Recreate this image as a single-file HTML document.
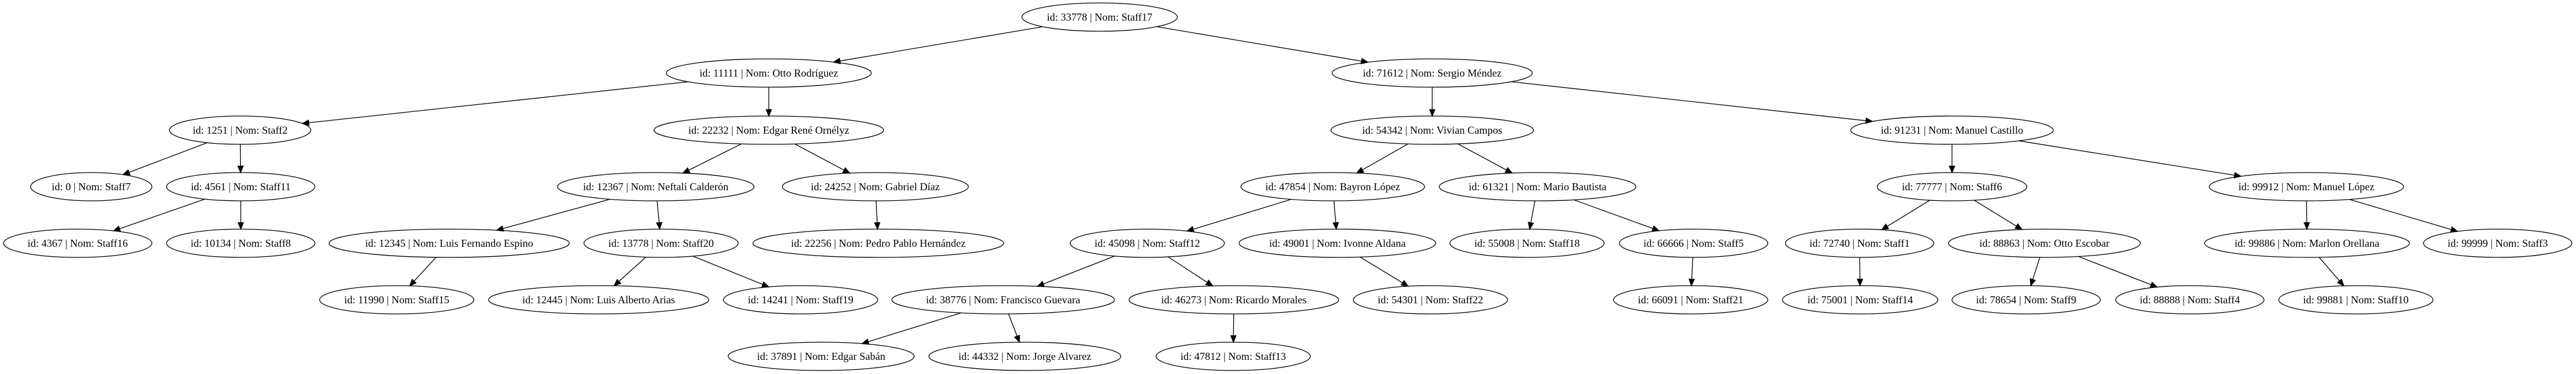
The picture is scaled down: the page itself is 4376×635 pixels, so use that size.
<!DOCTYPE html>
<html><head><meta charset="utf-8"><style>
html,body{margin:0;padding:0;background:#fff;}
svg{display:block;}
text{font-family:"Liberation Serif","Times New Roman",serif;font-size:18px;fill:#000;text-anchor:middle;}
ellipse{fill:none;stroke:#000;stroke-width:1.3;}
</style></head><body>
<svg id="s" width="4376" height="635" viewBox="0 0 4376 635" xmlns="http://www.w3.org/2000/svg">
<g id="edges" stroke="#000" stroke-width="1.3" fill="#000"></g>
<g id="nodes">
<g id="n33778" data-x="1868" data-y="29" data-r="132"><ellipse cx="1868" cy="29" rx="132" ry="24"/><text x="1868" y="35">id: 33778 | Nom: Staff17</text></g>
<g id="n11111" data-x="1306" data-y="124" data-r="174"><ellipse cx="1306" cy="124" rx="174" ry="24"/><text x="1306" y="130">id: 11111 | Nom: Otto Rodríguez</text></g>
<g id="n71612" data-x="2433" data-y="124" data-r="170"><ellipse cx="2433" cy="124" rx="170" ry="24"/><text x="2433" y="130">id: 71612 | Nom: Sergio Méndez</text></g>
<g id="n1251" data-x="408" data-y="221" data-r="120"><ellipse cx="408" cy="221" rx="120" ry="24"/><text x="408" y="227">id: 1251 | Nom: Staff2</text></g>
<g id="n22232" data-x="1306" data-y="221" data-r="195"><ellipse cx="1306" cy="221" rx="195" ry="24"/><text x="1306" y="227">id: 22232 | Nom: Edgar René Ornélyz</text></g>
<g id="n54342" data-x="2433" data-y="221" data-r="172"><ellipse cx="2433" cy="221" rx="172" ry="24"/><text x="2433" y="227">id: 54342 | Nom: Vivian Campos</text></g>
<g id="n91231" data-x="3316" data-y="221" data-r="172"><ellipse cx="3316" cy="221" rx="172" ry="24"/><text x="3316" y="227">id: 91231 | Nom: Manuel Castillo</text></g>
<g id="n0" data-x="155" data-y="317" data-r="103"><ellipse cx="155" cy="317" rx="103" ry="24"/><text x="155" y="323">id: 0 | Nom: Staff7</text></g>
<g id="n4561" data-x="409" data-y="317" data-r="126"><ellipse cx="409" cy="317" rx="126" ry="24"/><text x="409" y="323">id: 4561 | Nom: Staff11</text></g>
<g id="n12367" data-x="1114" data-y="317" data-r="167"><ellipse cx="1114" cy="317" rx="167" ry="24"/><text x="1114" y="323">id: 12367 | Nom: Neftalí Calderón</text></g>
<g id="n24252" data-x="1487" data-y="317" data-r="158"><ellipse cx="1487" cy="317" rx="158" ry="24"/><text x="1487" y="323">id: 24252 | Nom: Gabriel Díaz</text></g>
<g id="n47854" data-x="2264" data-y="317" data-r="156"><ellipse cx="2264" cy="317" rx="156" ry="24"/><text x="2264" y="323">id: 47854 | Nom: Bayron López</text></g>
<g id="n61321" data-x="2612" data-y="317" data-r="167"><ellipse cx="2612" cy="317" rx="167" ry="24"/><text x="2612" y="323">id: 61321 | Nom: Mario Bautista</text></g>
<g id="n77777" data-x="3316" data-y="317" data-r="127"><ellipse cx="3316" cy="317" rx="127" ry="24"/><text x="3316" y="323">id: 77777 | Nom: Staff6</text></g>
<g id="n99912" data-x="3918" data-y="317" data-r="165"><ellipse cx="3918" cy="317" rx="165" ry="24"/><text x="3918" y="323">id: 99912 | Nom: Manuel López</text></g>
<g id="n4367" data-x="132" data-y="413" data-r="126"><ellipse cx="132" cy="413" rx="126" ry="24"/><text x="132" y="419">id: 4367 | Nom: Staff16</text></g>
<g id="n10134" data-x="409" data-y="413" data-r="126"><ellipse cx="409" cy="413" rx="126" ry="24"/><text x="409" y="419">id: 10134 | Nom: Staff8</text></g>
<g id="n12345" data-x="763" data-y="413" data-r="204"><ellipse cx="763" cy="413" rx="204" ry="24"/><text x="763" y="419">id: 12345 | Nom: Luis Fernando Espino</text></g>
<g id="n13778" data-x="1123" data-y="413" data-r="131"><ellipse cx="1123" cy="413" rx="131" ry="24"/><text x="1123" y="419">id: 13778 | Nom: Staff20</text></g>
<g id="n22256" data-x="1492" data-y="413" data-r="213"><ellipse cx="1492" cy="413" rx="213" ry="24"/><text x="1492" y="419">id: 22256 | Nom: Pedro Pablo Hernández</text></g>
<g id="n45098" data-x="1949" data-y="413" data-r="131"><ellipse cx="1949" cy="413" rx="131" ry="24"/><text x="1949" y="419">id: 45098 | Nom: Staff12</text></g>
<g id="n49001" data-x="2272" data-y="413" data-r="167"><ellipse cx="2272" cy="413" rx="167" ry="24"/><text x="2272" y="419">id: 49001 | Nom: Ivonne Aldana</text></g>
<g id="n55008" data-x="2594" data-y="413" data-r="131"><ellipse cx="2594" cy="413" rx="131" ry="24"/><text x="2594" y="419">id: 55008 | Nom: Staff18</text></g>
<g id="n66666" data-x="2877" data-y="413" data-r="126"><ellipse cx="2877" cy="413" rx="126" ry="24"/><text x="2877" y="419">id: 66666 | Nom: Staff5</text></g>
<g id="n72740" data-x="3159" data-y="413" data-r="126"><ellipse cx="3159" cy="413" rx="126" ry="24"/><text x="3159" y="419">id: 72740 | Nom: Staff1</text></g>
<g id="n88863" data-x="3473" data-y="413" data-r="163"><ellipse cx="3473" cy="413" rx="163" ry="24"/><text x="3473" y="419">id: 88863 | Nom: Otto Escobar</text></g>
<g id="n99886" data-x="3919" data-y="413" data-r="174"><ellipse cx="3919" cy="413" rx="174" ry="24"/><text x="3919" y="419">id: 99886 | Nom: Marlon Orellana</text></g>
<g id="n99999" data-x="4243" data-y="413" data-r="126"><ellipse cx="4243" cy="413" rx="126" ry="24"/><text x="4243" y="419">id: 99999 | Nom: Staff3</text></g>
<g id="n11990" data-x="674" data-y="509" data-r="131"><ellipse cx="674" cy="509" rx="131" ry="24"/><text x="674" y="515">id: 11990 | Nom: Staff15</text></g>
<g id="n12445" data-x="1017" data-y="509" data-r="187"><ellipse cx="1017" cy="509" rx="187" ry="24"/><text x="1017" y="515">id: 12445 | Nom: Luis Alberto Arias</text></g>
<g id="n14241" data-x="1360" data-y="509" data-r="131"><ellipse cx="1360" cy="509" rx="131" ry="24"/><text x="1360" y="515">id: 14241 | Nom: Staff19</text></g>
<g id="n38776" data-x="1704" data-y="509" data-r="189"><ellipse cx="1704" cy="509" rx="189" ry="24"/><text x="1704" y="515">id: 38776 | Nom: Francisco Guevara</text></g>
<g id="n46273" data-x="2096" data-y="509" data-r="178"><ellipse cx="2096" cy="509" rx="178" ry="24"/><text x="2096" y="515">id: 46273 | Nom: Ricardo Morales</text></g>
<g id="n54301" data-x="2430" data-y="509" data-r="131"><ellipse cx="2430" cy="509" rx="131" ry="24"/><text x="2430" y="515">id: 54301 | Nom: Staff22</text></g>
<g id="n66091" data-x="2872" data-y="509" data-r="131"><ellipse cx="2872" cy="509" rx="131" ry="24"/><text x="2872" y="515">id: 66091 | Nom: Staff21</text></g>
<g id="n75001" data-x="3160" data-y="509" data-r="132"><ellipse cx="3160" cy="509" rx="132" ry="24"/><text x="3160" y="515">id: 75001 | Nom: Staff14</text></g>
<g id="n78654" data-x="3442" data-y="509" data-r="126"><ellipse cx="3442" cy="509" rx="126" ry="24"/><text x="3442" y="515">id: 78654 | Nom: Staff9</text></g>
<g id="n88888" data-x="3720" data-y="509" data-r="126"><ellipse cx="3720" cy="509" rx="126" ry="24"/><text x="3720" y="515">id: 88888 | Nom: Staff4</text></g>
<g id="n99881" data-x="4002" data-y="509" data-r="131"><ellipse cx="4002" cy="509" rx="131" ry="24"/><text x="4002" y="515">id: 99881 | Nom: Staff10</text></g>
<g id="n37891" data-x="1395" data-y="605" data-r="158"><ellipse cx="1395" cy="605" rx="158" ry="24"/><text x="1395" y="611">id: 37891 | Nom: Edgar Sabán</text></g>
<g id="n44332" data-x="1741" data-y="605" data-r="163"><ellipse cx="1741" cy="605" rx="163" ry="24"/><text x="1741" y="611">id: 44332 | Nom: Jorge Alvarez</text></g>
<g id="n47812" data-x="2095" data-y="605" data-r="131"><ellipse cx="2095" cy="605" rx="131" ry="24"/><text x="2095" y="611">id: 47812 | Nom: Staff13</text></g>
</g>
</svg>
<script>
var E=[["33778","11111"],["33778","71612"],["11111","1251"],["11111","22232"],["1251","0"],["1251","4561"],["4561","4367"],["4561","10134"],["22232","12367"],["22232","24252"],["12367","12345"],["12367","13778"],["12345","11990"],["13778","12445"],["13778","14241"],["24252","22256"],["71612","54342"],["71612","91231"],["54342","47854"],["54342","61321"],["47854","45098"],["47854","49001"],["45098","38776"],["45098","46273"],["38776","37891"],["38776","44332"],["46273","47812"],["49001","54301"],["61321","55008"],["61321","66666"],["66666","66091"],["91231","77777"],["91231","99912"],["77777","72740"],["77777","88863"],["72740","75001"],["88863","78654"],["88863","88888"],["99912","99886"],["99912","99999"],["99886","99881"]];
var NS="http://www.w3.org/2000/svg",g=document.getElementById("edges");
function nd(id){var e=document.getElementById("n"+id);return{x:+e.getAttribute("data-x"),y:+e.getAttribute("data-y"),r:+e.getAttribute("data-r")};}
function clip(n,dx,dy){var t=1/Math.sqrt((dx*dx)/(n.r*n.r)+(dy*dy)/(24*24));return[n.x+dx*t,n.y+dy*t];}
E.forEach(function(e){var a=nd(e[0]),b=nd(e[1]);var dx=b.x-a.x,dy=b.y-a.y;
var p=clip(a,dx,dy),q=clip(b,-dx,-dy);var L=Math.hypot(q[0]-p[0],q[1]-p[1]);var ux=(q[0]-p[0])/L,uy=(q[1]-p[1])/L;
var bx=q[0]-ux*11,by=q[1]-uy*11;
var l=document.createElementNS(NS,"line");l.setAttribute("x1",p[0]);l.setAttribute("y1",p[1]);l.setAttribute("x2",bx);l.setAttribute("y2",by);g.appendChild(l);
var pg=document.createElementNS(NS,"polygon");pg.setAttribute("points",q[0]+","+q[1]+" "+(bx-uy*4.5)+","+(by+ux*4.5)+" "+(bx+uy*4.5)+","+(by-ux*4.5));g.appendChild(pg);});
</script>
</body></html>
